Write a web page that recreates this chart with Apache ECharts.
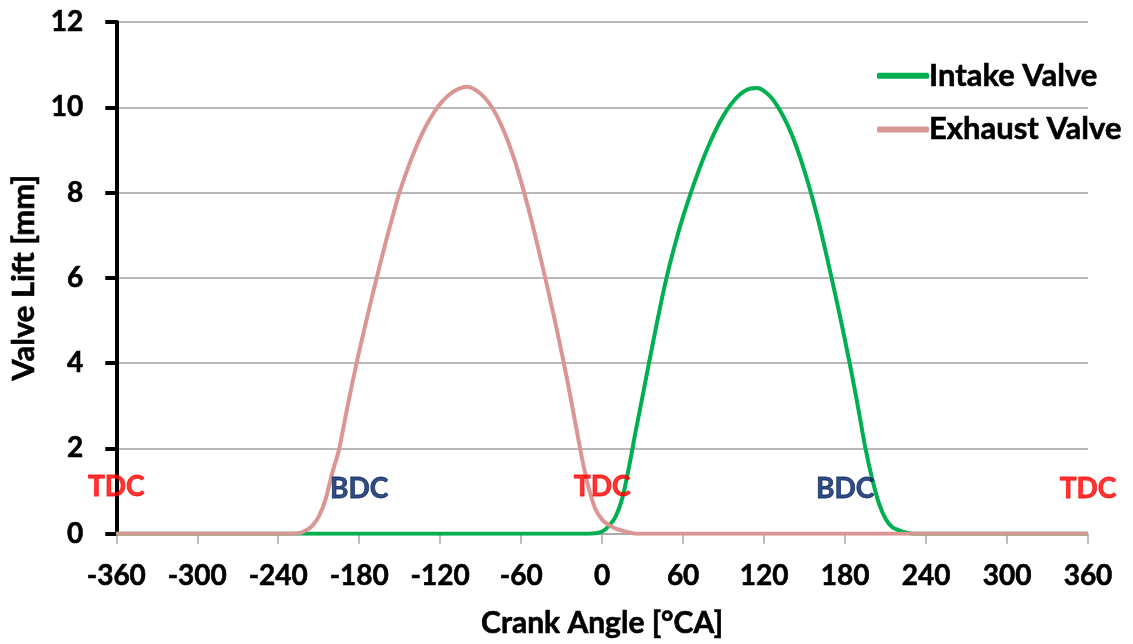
<!DOCTYPE html>
<html>
<head>
<meta charset="utf-8">
<script src="https://cdn.jsdelivr.net/npm/echarts@6/dist/echarts.min.js"></script>
<style>
  html, body { margin: 0; padding: 0; background: #ffffff; }
  #chart { width: 1133px; height: 644px; }
</style>
</head>
<body>
<div id="chart"></div>
<script>
// Valve lift profiles over one full cycle (crank angle in degrees, lift in mm)
const intakeAngle = [-360, -10, -5, 0, 5, 10, 15, 20, 25, 30, 35, 40, 45, 50, 55, 60, 65, 70, 75, 80, 85, 90, 95, 100, 105, 110, 115, 120, 125, 130, 135, 140, 145, 150, 155, 160, 165, 170, 175, 180, 185, 190, 195, 200, 205, 210, 215, 220, 225, 230, 360];
const intakeLift  = [0, 0, 0.01, 0.05, 0.18, 0.4, 0.84, 1.58, 2.43, 3.23, 4.05, 4.85, 5.62, 6.3, 6.9, 7.44, 7.93, 8.38, 8.8, 9.18, 9.52, 9.81, 10.05, 10.24, 10.37, 10.44, 10.45, 10.38, 10.24, 10.02, 9.74, 9.4, 8.98, 8.5, 7.96, 7.36, 6.7, 6.0, 5.28, 4.53, 3.74, 2.9, 2.02, 1.3, 0.72, 0.35, 0.15, 0.08, 0.03, 0, 0];

const exhaustAngle = [-360, -230, -225, -220, -215, -210, -205, -200, -195, -190, -185, -180, -175, -170, -165, -160, -155, -150, -145, -140, -135, -130, -125, -120, -115, -110, -105, -100, -95, -90, -85, -80, -75, -70, -65, -60, -55, -50, -45, -40, -35, -30, -25, -20, -15, -10, -5, 0, 5, 10, 15, 20, 25, 360];
const exhaustLift  = [0, 0, 0.01, 0.07, 0.18, 0.4, 0.8, 1.42, 1.97, 2.77, 3.55, 4.28, 4.96, 5.62, 6.26, 6.88, 7.47, 8.02, 8.48, 8.9, 9.27, 9.59, 9.86, 10.08, 10.25, 10.37, 10.45, 10.48, 10.43, 10.32, 10.15, 9.91, 9.6, 9.22, 8.77, 8.25, 7.67, 7.04, 6.38, 5.7, 4.99, 4.25, 3.46, 2.62, 1.78, 1.08, 0.58, 0.33, 0.2, 0.12, 0.07, 0.03, 0, 0];

// Dead-centre markers
const markerAngle = [-360, -180, 0, 180, 360];
const markerLift  = [1.1, 1.05, 1.1, 1.05, 1.05];
const markerText  = ['TDC', 'BDC', 'TDC', 'BDC', 'TDC'];

const xTicks = { min: -360, max: 360, step: 60 };
const yTicks = { min: 0, max: 12, step: 2 };

const FONT = 'Lato';
const pairs = (xs, ys) => xs.map((x, i) => [x, ys[i]]);
// bold text with a thin same-colour outline for a heavier stroke
const heavy = (size, color) => ({
  fontFamily: FONT, fontWeight: 'bold', fontSize: size, color: color,
  textBorderColor: color, textBorderWidth: 0.6
});

const chart = echarts.init(document.getElementById('chart'), null, { renderer: 'canvas' });

chart.setOption({
  backgroundColor: '#ffffff',
  animation: false,
  grid: { left: 115, right: 45, top: 22, bottom: 108 },
  legend: {
    orient: 'vertical',
    left: 872,
    top: 55,
    itemGap: 22,
    itemWidth: 52,
    itemHeight: 6,
    icon: 'roundRect',
    data: ['Intake Valve', 'Exhaust Valve'],
    textStyle: Object.assign(heavy(31, '#000'), { padding: [0, 0, 0, -5] })
  },
  xAxis: {
    type: 'value',
    min: xTicks.min,
    max: xTicks.max,
    interval: xTicks.step,
    name: 'Crank Angle [°CA]',
    nameLocation: 'middle',
    nameGap: 75,
    nameTextStyle: heavy(30, '#000'),
    axisLine: { show: true, onZero: false, lineStyle: { color: '#a6a6a6', width: 1.5 } },
    axisTick: { show: true, inside: false, length: 10, lineStyle: { color: '#a6a6a6', width: 1.5 } },
    axisLabel: Object.assign(heavy(28, '#000'), { margin: 28 }),
    splitLine: { show: false }
  },
  yAxis: {
    type: 'value',
    min: yTicks.min,
    max: yTicks.max,
    interval: yTicks.step,
    name: 'Valve Lift [mm]',
    nameLocation: 'middle',
    nameGap: 71,
    nameTextStyle: heavy(31, '#000'),
    axisLine: { show: true, onZero: false, lineStyle: { color: '#000', width: 4 } },
    axisTick: { show: true, inside: false, length: 11, lineStyle: { color: '#000', width: 4 } },
    axisLabel: Object.assign(heavy(28, '#000'), { margin: 33 }),
    splitLine: { show: true, lineStyle: { color: '#a0a0a0', width: 1.5 } }
  },
  series: [
    {
      name: 'Intake Valve',
      type: 'line',
      data: pairs(intakeAngle, intakeLift),
      smooth: 0.3,
      showSymbol: false,
      symbol: 'none',
      itemStyle: { color: '#00b050' },
      lineStyle: { color: '#00b050', width: 4 },
      z: 3
    },
    {
      name: 'Exhaust Valve',
      type: 'line',
      data: pairs(exhaustAngle, exhaustLift),
      smooth: 0.3,
      showSymbol: false,
      symbol: 'none',
      itemStyle: { color: '#d99694' },
      lineStyle: { color: '#d99694', width: 4 },
      z: 4
    },
    {
      name: 'markers',
      type: 'scatter',
      symbolSize: 0,
      silent: true,
      data: markerAngle.map((x, i) => {
        const c = markerText[i] === 'TDC' ? '#ff0000' : '#002060';
        return { value: [x, markerLift[i]], label: { color: c, textBorderColor: c } };
      }),
      label: {
        show: true,
        position: 'inside',
        formatter: p => markerText[p.dataIndex],
        fontFamily: FONT,
        fontWeight: 'bold',
        fontSize: 28,
        textBorderWidth: 0.8
      },
      z: 5
    }
  ]
});
</script>
</body>
</html>
